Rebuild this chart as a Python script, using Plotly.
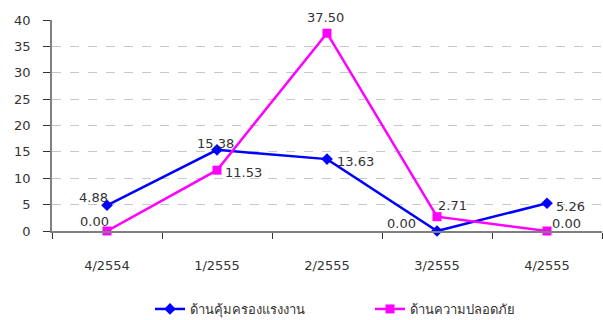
import plotly.graph_objects as go

categories = ["4/2554", "1/2555", "2/2555", "3/2555", "4/2555"]
labour = [4.88, 15.38, 13.63, 0.00, 5.26]
safety = [0.00, 11.53, 37.50, 2.71, 0.00]
labour_name = "ด้านคุ้มครองแรงงาน"
safety_name = "ด้านความปลอดภัย"

# Pixel offsets (dx, dy) of each value label from its marker
labour_offsets = [(-14, 8), (-2, 6), (28, -2), (-36, 8), (23, -3)]
safety_offsets = [(-13, 10), (26, -2), (-2, 16), (15, 11), (19, 8)]

font = dict(family="DejaVu Sans, Tahoma, sans-serif", size=13, color="#333333")
legend_font = dict(family="Tahoma, DejaVu Sans, sans-serif", size=13, color="#333333")

fig = go.Figure()
fig.add_trace(go.Scatter(
    x=categories, y=labour, name=labour_name, legend="legend",
    mode="lines+markers",
    line=dict(color="#0000FF", width=2.5),
    marker=dict(symbol="diamond", size=9, color="#0000FF"),
    cliponaxis=False,
))
fig.add_trace(go.Scatter(
    x=categories, y=safety, name=safety_name, legend="legend2",
    mode="lines+markers",
    line=dict(color="#FF00FF", width=2.5),
    marker=dict(symbol="square", size=9, color="#FF00FF"),
    cliponaxis=False,
))

for values, offsets in ((labour, labour_offsets), (safety, safety_offsets)):
    for cat, v, (dx, dy) in zip(categories, values, offsets):
        fig.add_annotation(
            x=cat, y=v, text=f"{v:.2f}", showarrow=False,
            xshift=dx, yshift=dy, font=font,
            xanchor="center", yanchor="middle",
        )

legend_y = -(309 - 231) / 211
fig.update_layout(
    width=603, height=320,
    margin=dict(l=52, r=1, t=20, b=89, autoexpand=False),
    plot_bgcolor="white", paper_bgcolor="white",
    font=font,
    showlegend=True,
    legend=dict(
        x=(150 - 52) / 550, xanchor="left", y=legend_y, yanchor="middle",
        font=legend_font, bgcolor="rgba(0,0,0,0)",
    ),
    legend2=dict(
        x=(370 - 52) / 550, xanchor="left", y=legend_y, yanchor="middle",
        font=legend_font, bgcolor="rgba(0,0,0,0)",
    ),
    xaxis=dict(
        type="category", tickson="boundaries", ticks="outside", ticklen=6,
        tickcolor="#333333", showline=True, linecolor="#808080", linewidth=1.5,
        showgrid=False, ticklabelstandoff=22, range=[-0.5, 4.5],
    ),
    yaxis=dict(
        range=[0, 40], dtick=5, ticks="outside", ticklen=7, tickcolor="#333333",
        showline=True, linecolor="#808080", linewidth=1.5,
        showgrid=True, gridcolor="#c8c8c8", griddash="dash", gridwidth=1,
        zeroline=False, ticklabelstandoff=10,
    ),
)

fig.write_html("out.html")
